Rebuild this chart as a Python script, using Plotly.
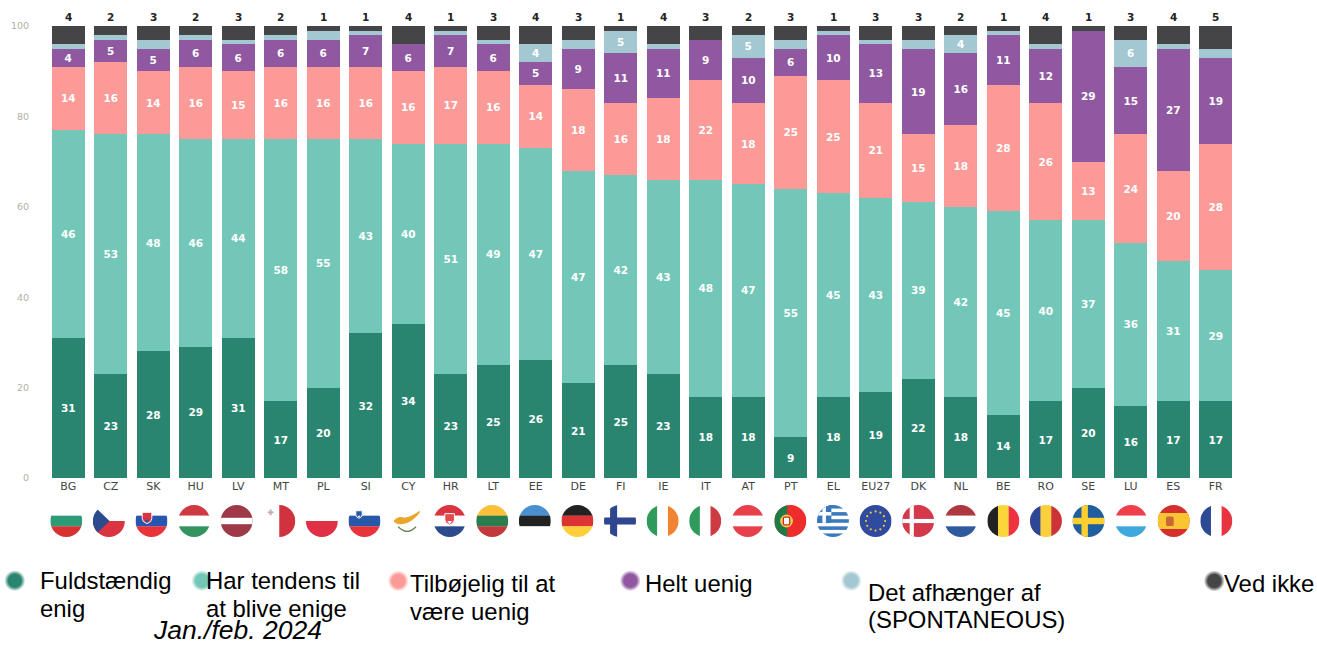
import base64
import math
import plotly.graph_objects as go

categories = ["BG","CZ","SK","HU","LV","MT","PL","SI","CY","HR","LT","EE","DE","FI","IE","IT","AT","PT","EL","EU27","DK","NL","BE","RO","SE","LU","ES","FR"]
fuldstaendig_enig = [31,23,28,29,31,17,20,32,34,23,25,26,21,25,23,18,18,9,18,19,22,18,14,17,20,16,17,17]
tendens_enige = [46,53,48,46,44,58,55,43,40,51,49,47,47,42,43,48,47,55,45,43,39,42,45,40,37,36,31,29]
tilboejelig_uenig = [14,16,14,16,15,16,16,16,16,17,16,14,18,16,18,22,18,25,25,21,15,18,28,26,13,24,20,28]
helt_uenig = [4,5,5,6,6,6,6,7,6,7,6,5,9,11,11,9,10,6,10,13,19,16,11,12,29,15,27,19]
afhaenger = [1,1,2,1,1,1,2,1,0,1,1,4,2,5,1,0,5,2,1,1,2,4,1,1,0,6,1,2]
ved_ikke = [4,2,3,2,3,2,1,1,4,1,3,4,3,1,4,3,2,3,1,3,3,2,1,4,1,3,4,5]
y_ticks = [0,20,40,60,80,100]

series = [
    ("Fuldstændig enig", fuldstaendig_enig, "#2a8570", 1),
    ("Har tendens til at blive enige", tendens_enige, "#73c7b8", 1),
    ("Tilbøjelig til at være uenig", tilboejelig_uenig, "#fb9a96", 1),
    ("Helt uenig", helt_uenig, "#9058a0", 1),
    ("Det afhænger af (SPONTANEOUS)", afhaenger, "#a3c8d2", 4),
    ("Ved ikke", ved_ikke, "#454547", 999),
]

L, R_EDGE, T, B_EDGE = 46.7, 1236.7, 26.0, 478.0
W, H = R_EDGE - L, B_EDGE - T
def fx(px): return (px - L) / W
def fy(py): return (B_EDGE - py) / H

fig = go.Figure()
for name, vals, color, minshow in series:
    fig.add_trace(go.Bar(
        name=name, x=categories, y=vals, marker=dict(color=color, line=dict(width=0)),
        text=[str(v) if v >= minshow else "" for v in vals],
        textposition="inside", insidetextanchor="middle", textangle=0,
        insidetextfont=dict(family="DejaVu Sans", size=10.5, color="white", weight=700),
        constraintext="none", cliponaxis=False, showlegend=False,
    ))

totals = [sum(s[1][i] for s in series) for i in range(len(categories))]

# ---- flags (decoration drawn as small SVG pictures) ----
def h(*cols):
    n = len(cols)
    return "".join(f'<rect x="0" y="{i*100/n}" width="100" height="{100/n+.5}" fill="{c}"/>' for i, c in enumerate(cols))
def v(*cols):
    n = len(cols)
    return "".join(f'<rect y="0" x="{i*100/n}" height="100" width="{100/n+.5}" fill="{c}"/>' for i, c in enumerate(cols))
def cross(bg, fg, t=20, cx=38):
    return (f'<rect width="100" height="100" fill="{bg}"/>'
            f'<rect x="{cx-t/2}" y="0" width="{t}" height="100" fill="{fg}"/>'
            f'<rect x="0" y="{50-t/2}" width="100" height="{t}" fill="{fg}"/>')
def shield(cx, cy, s, top, bottom):
    return (f'<path d="M{cx-s} {cy-s} H{cx+s} V{cy+s*.3} Q{cx+s} {cy+s} {cx} {cy+s*1.35} Q{cx-s} {cy+s} {cx-s} {cy+s*.3} Z" fill="{top}" stroke="white" stroke-width="3"/>'
            f'<path d="M{cx-s*.5} {cy+s*.55} H{cx+s*.5} L{cx} {cy+s*1.2} Z" fill="{bottom}"/>')
def eu_stars():
    out = '<rect width="100" height="100" fill="#2f4a9e"/>'
    for i in range(12):
        a = i * math.pi / 6
        out += f'<circle cx="{50+30*math.cos(a):.1f}" cy="{50+30*math.sin(a):.1f}" r="3.4" fill="#f0c93a"/>'
    return out
def greece():
    out = '<rect width="100" height="100" fill="white"/>'
    for i in range(0, 9, 2):
        out += f'<rect x="0" y="{i*100/9:.1f}" width="100" height="{100/9:.1f}" fill="#3a79c0"/>'
    out += '<rect width="45" height="56" fill="#3a79c0"/><rect x="17" width="11" height="56" fill="white"/><rect y="22" width="45" height="11" fill="white"/>'
    return out

RED, WHITE, BLUE = "#d9343f", "#ffffff", "#2f4a94"
flag_svg = {
    "BG": h(WHITE, "#2f9a77", "#d6322f"),
    "CZ": h(WHITE, "#d9343f") + '<path d="M0 0 L52 50 L0 100 Z" fill="#2c4a8c"/>',
    "SK": h(WHITE, "#2856ae", "#e8333a") + shield(36, 38, 15, "#d9343f", "#2856ae"),
    "HU": h("#cf3a42", WHITE, "#33945f"),
    "LV": '<rect width="100" height="100" fill="#9e3a48"/><rect y="40" width="100" height="20" fill="white"/>',
    "MT": v(WHITE, "#d0323e") + '<path d="M14 20 H20 V14 H26 V20 H32 V26 H26 V32 H20 V26 H14 Z" fill="#c9a6b0"/>',
    "PL": h(WHITE, "#e03046"),
    "SI": h(WHITE, "#2859a8", "#e8333a") + shield(33, 28, 10, "#2859a8", "#ffffff"),
    "CY": '<rect width="100" height="100" fill="white"/><path d="M8 50 Q22 32 42 40 Q68 36 98 12 Q80 40 62 50 Q52 58 34 60 Q16 62 8 50 Z" fill="#eba52c"/>'
          '<path d="M22 68 Q40 84 50 82 M78 68 Q62 84 50 82" fill="none" stroke="#6a7a4a" stroke-width="4"/>',
    "HR": h("#d9343f", WHITE, "#2c4a8c") + shield(50, 42, 15, "#e04a50", "#ffffff"),
    "LT": h("#fbbf3a", "#2b7d50", "#c1393b"),
    "EE": h("#4a90d0", "#222222", WHITE),
    "DE": h("#222222", "#dd3333", "#fdcf3a"),
    "FI": cross(WHITE, "#2f4690", 22, 30),
    "IE": v("#2f9a5c", WHITE, "#f08432"),
    "IT": v("#2f9a5c", WHITE, "#cc3a42"),
    "AT": h("#e8404a", WHITE, "#e8404a"),
    "PT": '<rect width="100" height="100" fill="#ee2c2c"/><rect width="40" height="100" fill="#1f7a45"/>'
          '<circle cx="38" cy="50" r="20" fill="#f3cf4a"/><rect x="28" y="38" width="20" height="24" rx="4" fill="white" stroke="#cc2a2a" stroke-width="4"/>',
    "EL": greece(),
    "EU27": eu_stars(),
    "DK": cross("#d5384a", WHITE, 13, 30),
    "NL": h("#ae3840", WHITE, "#2f5a9e"),
    "BE": v("#222222", "#fbd63a", "#ee3340"),
    "RO": v("#2f4694", "#fbd03a", "#cc3238"),
    "SE": cross("#1f5f9e", "#fbcf30", 20, 38),
    "LU": h("#ee3f4a", WHITE, "#3fa8dc"),
    "ES": '<rect width="100" height="100" fill="#d4302e"/><rect y="25" width="100" height="50" fill="#fbc431"/>'
          '<rect x="26" y="36" width="24" height="30" rx="5" fill="#c9663a"/>',
    "FR": v("#2f4a94", WHITE, "#e8343f"),
}

def data_uri(svg):
    return "data:image/svg+xml;base64," + base64.b64encode(svg.encode()).decode()

def flag_uri(body, key):
    return data_uri(
        f'<svg xmlns="http://www.w3.org/2000/svg" viewBox="0 0 100 100" width="100" height="100">'
        f'<defs><clipPath id="c{key}"><circle cx="50" cy="50" r="50"/></clipPath></defs>'
        f'<g clip-path="url(#c{key})">{body}</g></svg>')

def dot_uri(color, key):
    return data_uri(
        f'<svg xmlns="http://www.w3.org/2000/svg" viewBox="0 0 100 100" width="100" height="100">'
        f'<defs><radialGradient id="g{key}"><stop offset="0.62" stop-color="{color}"/>'
        f'<stop offset="1" stop-color="{color}" stop-opacity="0"/></radialGradient></defs>'
        f'<circle cx="50" cy="50" r="50" fill="url(#g{key})"/></svg>')

images = []
n = len(categories)
FLAG_D = 32.0
for i, c in enumerate(categories):
    cx = 66 + (1216 - 66) * i / (n - 1)
    images.append(dict(source=flag_uri(flag_svg[c], c), xref="paper", yref="paper",
                       x=fx(cx), y=fy(521), sizex=FLAG_D / W, sizey=FLAG_D / H,
                       xanchor="center", yanchor="middle", sizing="stretch", layer="above"))

# ---- legend, placed as in the picture ----
dots = [(14.5, 580.7), (201.7, 580.7), (398, 581), (630, 580.7), (851, 580.7), (1214, 581)]
DOT_D = 21.0
for k, ((cx, cy), s) in enumerate(zip(dots, series)):
    images.append(dict(source=dot_uri(s[2], k), xref="paper", yref="paper",
                       x=fx(cx), y=fy(cy), sizex=DOT_D / W, sizey=DOT_D / H,
                       xanchor="center", yanchor="middle", sizing="stretch", layer="above"))

legend_lines = [
    ("Fuldstændig", 40, 587.7), ("enig", 40, 615.7),
    ("Har tendens til", 206, 587.7), ("at blive enige", 206, 615.7),
    ("Tilbøjelig til at", 410, 591.0), ("være uenig", 410, 619.0),
    ("Helt uenig", 645, 591.0),
    ("Det afhænger af", 868, 599.3), ("(SPONTANEOUS)", 868, 627.0),
    ("Ved ikke", 1224, 591.0),
]
FS = 23.9
ann = [dict(text=t, x=fx(px), y=fy(base - 0.30 * FS), xref="paper", yref="paper", showarrow=False,
            xanchor="left", yanchor="middle", borderpad=0, borderwidth=0,
            font=dict(family="Liberation Sans", size=FS, color="#000000")) for t, px, base in legend_lines]
ann.append(dict(text="<i>Jan./feb. 2024</i>", x=fx(153), y=fy(645), xref="paper", yref="paper",
                showarrow=False, xanchor="left", yanchor="bottom", borderpad=0, borderwidth=0,
                height=26, valign="bottom",
                font=dict(family="Liberation Sans", size=26.5, color="#000000")))

# counts above each stack, sitting on top of the bars
for c, total, val in zip(categories, totals, ved_ikke):
    ann.append(dict(text=str(val), x=c, y=total, xref="x", yref="y", showarrow=False,
                    xanchor="center", yanchor="bottom", yshift=3, borderpad=0, borderwidth=0,
                    font=dict(family="DejaVu Sans", size=10.5, color="#222222", weight=700)))

fig.update_layout(
    width=1317, height=645, autosize=False,
    margin=dict(l=L, r=1317 - R_EDGE, t=T, b=645 - B_EDGE, pad=0),
    plot_bgcolor="white", paper_bgcolor="white",
    barmode="stack", bargap=0.216,
    images=images, annotations=ann, showlegend=False,
    xaxis=dict(type="category", categoryorder="array", categoryarray=categories, range=[-0.5, 27.5],
               automargin=False, showgrid=False, zeroline=False, showline=False, ticks="", tickangle=0,
               tickfont=dict(family="DejaVu Sans", size=11, color="#444444")),
    yaxis=dict(range=[0, 100], tickvals=y_ticks, automargin=False, showgrid=False, zeroline=False, showline=False,
               ticks="outside", ticklen=15, tickcolor="rgba(0,0,0,0)",
               tickfont=dict(family="DejaVu Sans", size=9.5, color="#b5aea8")),
)

fig.write_html("out.html", post_script="document.body.style.margin='0';",
               config={"displayModeBar": False})
